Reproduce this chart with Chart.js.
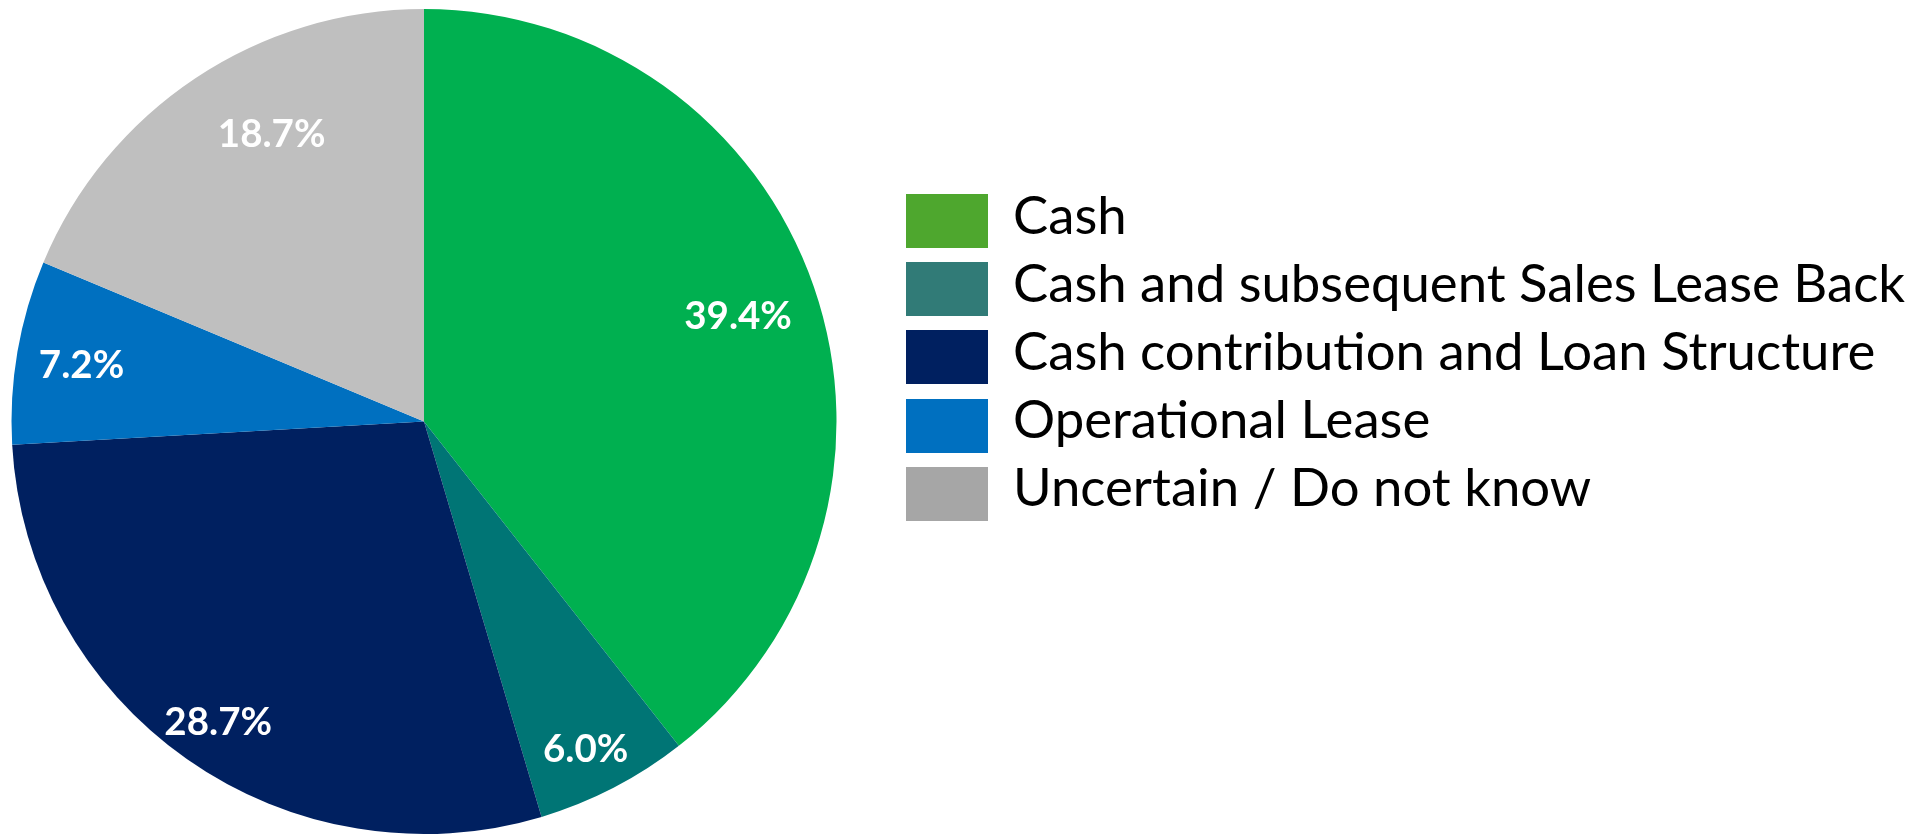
<!DOCTYPE html>
<html>
<head>
<meta charset="utf-8">
<script src="https://cdn.jsdelivr.net/npm/chart.js@4.4.1/dist/chart.umd.min.js"></script>
<style>
    html, body { margin: 0; padding: 0; background: #ffffff; }
    #wrap { position: relative; width: 1925px; height: 835px; overflow: hidden; }
    #pieBox { position: absolute; left: 0; top: 0; width: 848px; height: 835px; }
    #legend { position: absolute; left: 906px; top: 194px; margin: 0; padding: 0; list-style: none; }
    #legend li { display: flex; align-items: center; height: 54px; margin-bottom: 14.2px; }
    #legend .swatch { display: inline-block; width: 82px; height: 54px; flex: none; }
    #legend .text {
        margin-left: 25px;
        font-family: Lato, "Liberation Sans", sans-serif;
        font-size: 52.7px;
        color: #000000;
        white-space: nowrap;
        position: relative;
        top: -8px;
    }
</style>
</head>
<body>
<div id="wrap">
    <div id="pieBox"><canvas id="pieChart"></canvas></div>
    <ul id="legend"></ul>
</div>
<script>
const categories = ['Cash', 'Cash and subsequent Sales Lease Back', 'Cash contribution and Loan Structure', 'Operational Lease', 'Uncertain / Do not know'];
const shares = [39.4, 6.0, 28.7, 7.2, 18.7];
const sliceColors = ['#00b050', '#007575', '#002060', '#0070c0', '#bfbfbf'];
const legendColors = ['#4ea72e', '#317b77', '#002060', '#0070c0', '#a6a6a6'];

// where each percentage sits inside its slice (fraction of radius, angle nudge in degrees)
const labelRadius = [0.80, 0.895, 0.89, 0.84, 0.78];
const labelNudge = [1.2, 1.4, -1.0, -1.0, 5.4];
const labelLift = 5;

const sliceLabels = {
    id: 'sliceLabels',
    afterDatasetsDraw(chart) {
        const ctx = chart.ctx;
        const meta = chart.getDatasetMeta(0);
        ctx.save();
        ctx.fillStyle = '#ffffff';
        ctx.font = 'bold 38.5px Lato, "Liberation Sans", sans-serif';
        ctx.textAlign = 'center';
        ctx.textBaseline = 'alphabetic';
        meta.data.forEach((arc, i) => {
            const p = arc.getProps(['x', 'y', 'startAngle', 'endAngle', 'outerRadius'], true);
            const mid = (p.startAngle + p.endAngle) / 2 + labelNudge[i] * Math.PI / 180;
            const r = p.outerRadius * labelRadius[i];
            const x = p.x + Math.cos(mid) * r;
            const y = p.y + Math.sin(mid) * r - labelLift;
            const text = shares[i].toFixed(1) + '%';
            // centre the glyphs themselves, not the em box
            const m = ctx.measureText(text);
            ctx.fillText(text, x, y + (m.actualBoundingBoxAscent - m.actualBoundingBoxDescent) / 2);
        });
        ctx.restore();
    }
};

const chart = new Chart(document.getElementById('pieChart').getContext('2d'), {
    type: 'pie',
    data: {
        labels: categories,
        datasets: [{
            data: shares,
            backgroundColor: sliceColors,
            borderWidth: 0
        }]
    },
    options: {
        responsive: true,
        maintainAspectRatio: false,
        animation: false,
        layout: { padding: { top: 9, bottom: 1, left: 0, right: 0 } },
        plugins: {
            legend: { display: false },
            tooltip: { enabled: false }
        }
    },
    plugins: [sliceLabels]
});

// legend list built from the chart's own legend items
const legendEl = document.getElementById('legend');
chart.options.plugins.legend.labels.generateLabels(chart).forEach((item, i) => {
    const li = document.createElement('li');
    li.innerHTML = `<span class="swatch" style="background:${legendColors[i]}"></span><span class="text">${item.text}</span>`;
    legendEl.appendChild(li);
});
</script>
</body>
</html>
